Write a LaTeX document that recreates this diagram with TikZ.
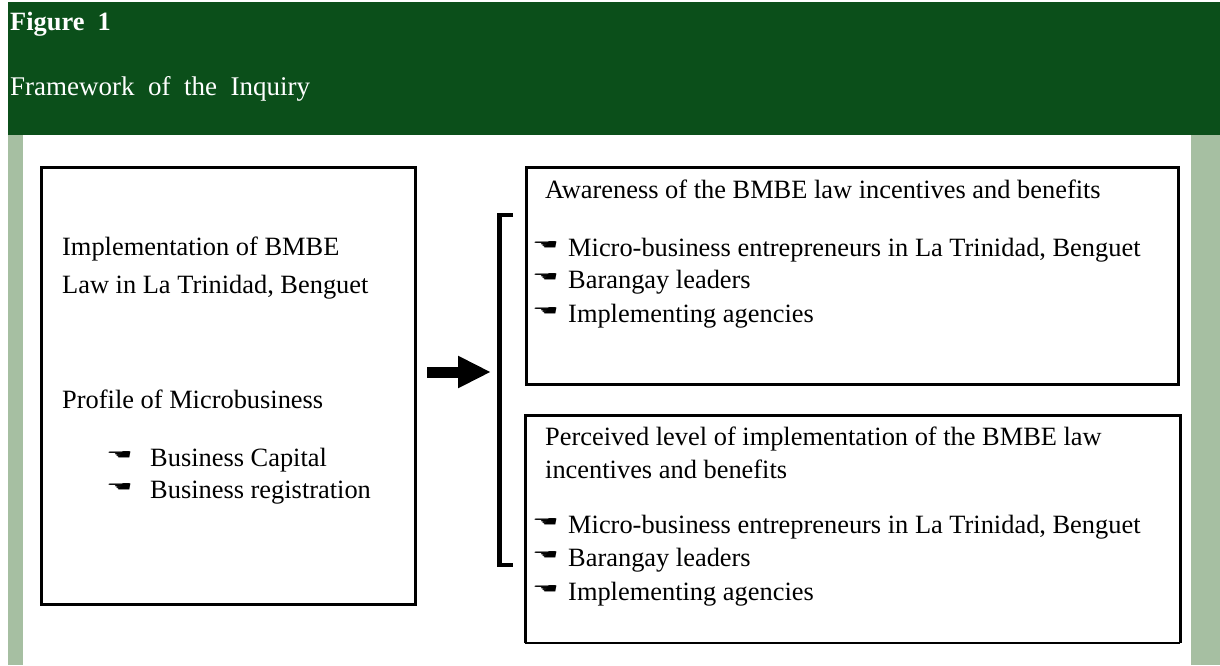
\documentclass[tikz,border=0pt]{standalone}
\usepackage{fontspec}
\setmainfont{Liberation Serif}
\newfontfamily\handfont{DejaVu Sans}
\usetikzlibrary{arrows.meta}

\definecolor{headgreen}{HTML}{0B4F1A}
\definecolor{sidegreen}{HTML}{A6BFA2}
\newcommand{\hand}{\scalebox{1.5}[0.7]{\handfont\char"261A}}

\begin{document}
\begin{tikzpicture}[x=1pt,y=-1pt,
    frame/.style={draw, line width=3pt, anchor=north west, inner sep=0pt},
    txt/.style={anchor=base west, inner sep=0pt, font=\fontsize{26.4}{33}\selectfont},
    handmark/.style={anchor=west, inner sep=0pt, font=\fontsize{20}{20}\selectfont}]
        \useasboundingbox (0,0) rectangle (1220,665);
        % header and side bars
        \fill[headgreen] (8,2) rectangle (1220,135);
        \fill[sidegreen] (8,135) rectangle (23,665);
        \fill[sidegreen] (1191,135) rectangle (1220,665);
        \node[txt, text=white, font=\fontsize{26.4}{33}\selectfont\bfseries] (fignum) at (10,30) {Figure~~1};
        \node[txt, text=white, font=\fontsize{27}{33}\selectfont] (figtitle) at (10,95) {Framework~~of~~the~~Inquiry};

        % boxes
        \node[frame, minimum width=374pt, minimum height=437pt] (implbox) at (40,166) {};
        \node[frame, minimum width=652pt, minimum height=217pt] (awarebox) at (525,166) {};
        \node[frame, draw=none, minimum width=652pt, minimum height=225pt] (levelbox) at (525,415) {};
        \draw[line width=3pt] (levelbox.south west) |- (levelbox.north east) -- (levelbox.south east);
        \draw[line width=1.5pt] (levelbox.south west) -- (levelbox.south east);

        % left box
        \node[txt] (impl1) at (62,255) {Implementation of BMBE};
        \node[txt] (impl2) at (62,293) {Law in La Trinidad, Benguet};
        \node[txt] (profile) at (62,408) {Profile of Microbusiness};
        \foreach \y/\t [count=\i] in {466/Business Capital, 498/Business registration} {
            \node[handmark] (profhand\i) at (106,\y-10) {\hand};
            \node[txt] (profitem\i) at (150,\y) {\t};
        }

        % right boxes
        \node[txt] (aware) at (545,198) {Awareness of the BMBE law incentives and benefits};
        \foreach \y/\t [count=\i] in {256/{Micro-business entrepreneurs in La Trinidad, Benguet}, 288/Barangay leaders, 322/Implementing agencies} {
            \node[handmark] (awarehand\i) at (532,\y-10) {\hand};
            \node[txt] (awareitem\i) at (568,\y) {\t};
        }
        \node[txt] (level1) at (545,445) {Perceived level of implementation of the BMBE law};
        \node[txt] (level2) at (545,478) {incentives and benefits};
        \foreach \y/\t [count=\i] in {533/{Micro-business entrepreneurs in La Trinidad, Benguet}, 566/Barangay leaders, 600/Implementing agencies} {
            \node[handmark] (levelhand\i) at (532,\y-10) {\hand};
            \node[txt] (levelitem\i) at (568,\y) {\t};
        }

        % bracket and arrow
        \coordinate (brtop) at (513,215);
        \coordinate (brbot) at (513,565);
        \draw[line width=4.5pt] (brtop) -- (499.5,215) -- (499.5,565) -- (brbot);
        \coordinate (arrowtail) at (427,372);
        \coordinate (arrowtip) at (491,372);
        \draw[line width=11pt, -{Triangle[length=33pt,width=30pt]}] (arrowtail) -- (arrowtip);
    \end{tikzpicture}
\end{document}
